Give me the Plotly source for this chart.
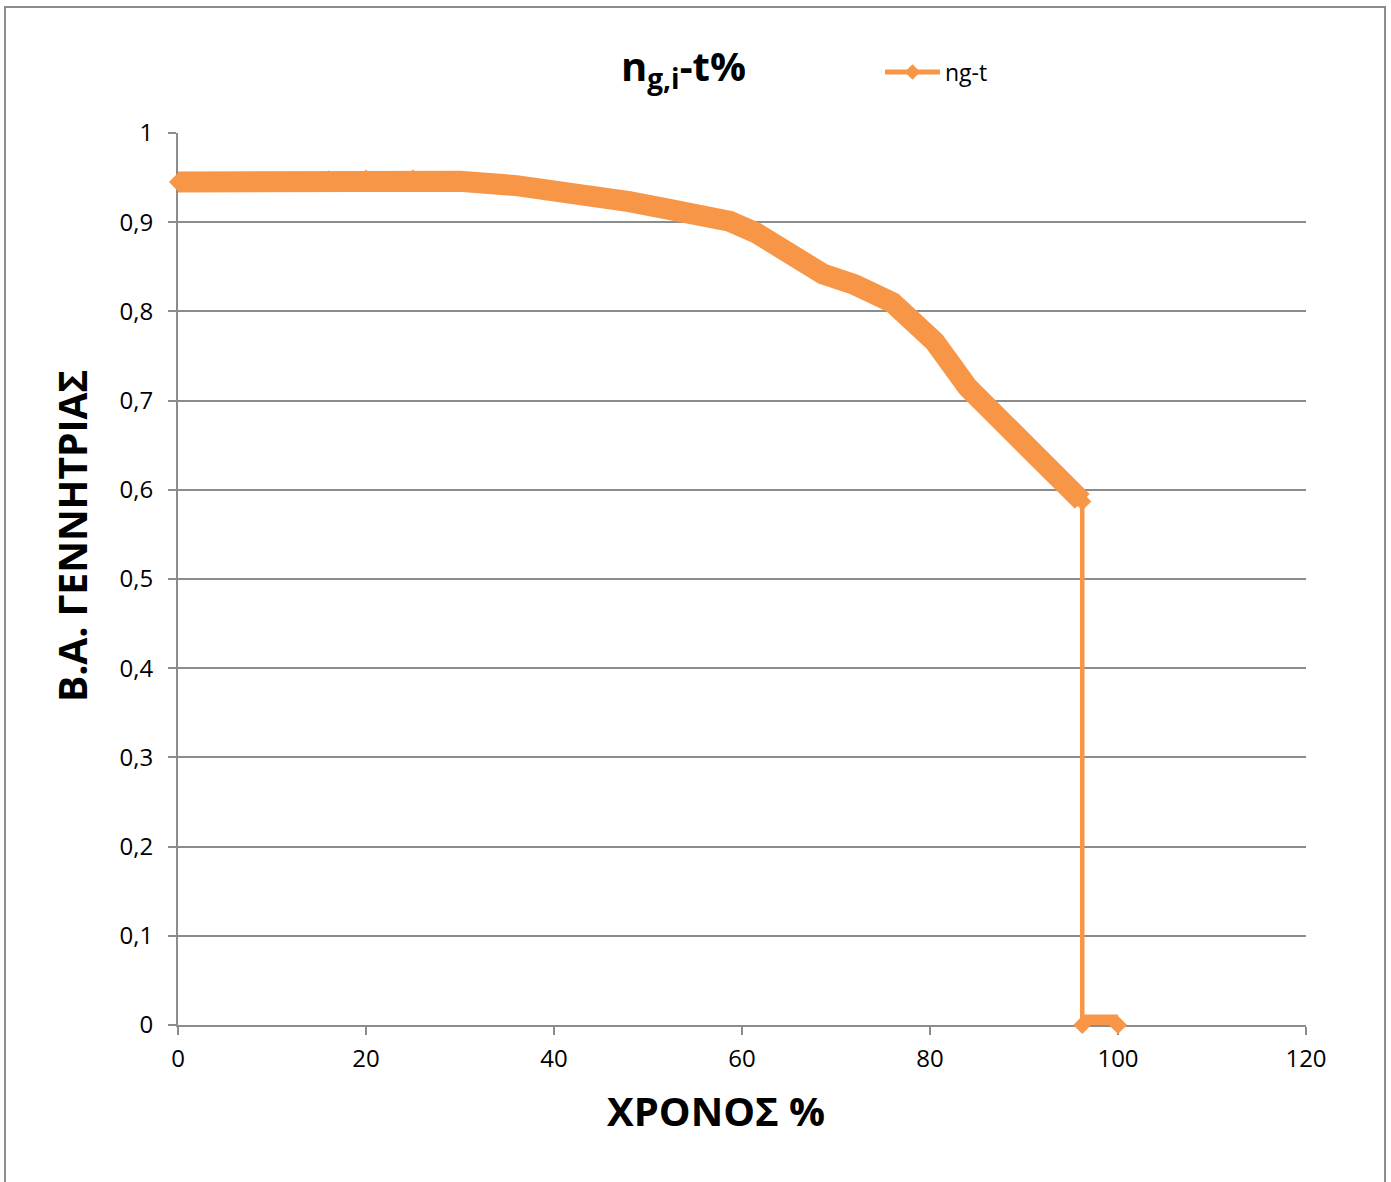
import plotly.graph_objects as go

# Generator efficiency (ng) against time share (%)
t_pct = [0, 5, 11.6, 16, 20, 25, 30, 36, 40, 44, 48, 52, 56, 58.7, 61.5, 65, 68.6,
         72, 74.5, 76, 80.5, 84, 88, 92, 96.2, 96.2, 100]
ng = [0.945, 0.945, 0.945, 0.948, 0.949, 0.949, 0.946, 0.941, 0.936, 0.931, 0.923,
      0.915, 0.908, 0.901, 0.888, 0.866, 0.842, 0.830, 0.820, 0.810, 0.766, 0.715,
      0.673, 0.631, 0.587, 0, 0]

x_ticks = [0, 20, 40, 60, 80, 100, 120]
y_ticks = [0, 0.1, 0.2, 0.3, 0.4, 0.5, 0.6, 0.7, 0.8, 0.9, 1]

ORANGE = "#F79646"
GRID = "#8C8C8C"
FONT = "Open Sans"

W, H = 1391, 1182
L, R, T, B = 178, 85, 133, 157
PW, PH = W - L - R, H - T - B

# The dense marker band: break it where the series drops to zero
k = ng.index(0)
band_x = t_pct[:k] + [None] + t_pct[k:]
band_y = ng[:k] + [None] + ng[k:]

fig = go.Figure()
fig.add_trace(go.Scatter(
    x=t_pct, y=ng, mode="lines+markers", name="ng-t",
    line=dict(color=ORANGE, width=4.5),
    marker=dict(symbol="diamond", size=14, color=ORANGE, line=dict(width=0)),
    cliponaxis=False,
))
fig.add_trace(go.Scatter(
    x=band_x, y=band_y, mode="lines", showlegend=False, hoverinfo="skip",
    line=dict(color=ORANGE, width=21), connectgaps=False, cliponaxis=False,
))


def px_x(p):
    return (p - L) / PW


def px_y(p):
    return (H - B - p) / PH


fig.update_layout(
    width=W, height=H,
    margin=dict(l=L, r=R, t=T, b=B, autoexpand=False),
    paper_bgcolor="white", plot_bgcolor="white",
    separators=",.",
    font=dict(family=FONT, size=24, color="black"),
    showlegend=True,
    legend=dict(
        x=px_x(880), y=px_y(72), xanchor="left", yanchor="middle",
        font=dict(family=FONT, size=23, color="black"),
        itemsizing="constant", itemwidth=55,
        bgcolor="rgba(0,0,0,0)", borderwidth=0,
    ),
    xaxis=dict(
        range=[0, 120], tickvals=x_ticks, showgrid=False, zeroline=False,
        showline=True, linecolor=GRID, linewidth=2,
        ticks="outside", ticklen=8, tickcolor=GRID, tickwidth=2,
        tickfont=dict(family=FONT, size=24), ticklabelstandoff=3,
        layer="below traces",
    ),
    yaxis=dict(
        range=[0, 1], tickvals=y_ticks, showgrid=True, gridcolor=GRID, gridwidth=2,
        zeroline=False, showline=True, linecolor=GRID, linewidth=2,
        ticks="outside", ticklen=8, tickcolor=GRID, tickwidth=2,
        tickfont=dict(family=FONT, size=24), ticklabelstandoff=10,
        layer="below traces",
    ),
    annotations=[
        dict(text="<b>n<sub>g,i</sub>-t%</b>", xref="paper", yref="paper",
             x=px_x(683), y=px_y(68), xanchor="center", yanchor="middle",
             showarrow=False, font=dict(family=FONT, size=40, color="black")),
        dict(text="<b>ΧΡΟΝΟΣ %</b>", xref="paper", yref="paper",
             x=px_x(716), y=px_y(1110), xanchor="center", yanchor="middle",
             showarrow=False, font=dict(family=FONT, size=40, color="black")),
        dict(text="<b>Β.Α. ΓΕΝΝΗΤΡΙΑΣ</b>", xref="paper", yref="paper",
             x=px_x(71), y=px_y(536), xanchor="center", yanchor="middle",
             textangle=-90, showarrow=False,
             font=dict(family=FONT, size=39, color="black")),
    ],
    shapes=[
        dict(type="rect", xref="paper", yref="paper",
             x0=px_x(5), x1=px_x(1385), y0=px_y(1195), y1=px_y(7),
             line=dict(color=GRID, width=2), fillcolor="rgba(0,0,0,0)",
             layer="below"),
    ],
)

fig.write_html("out.html")
